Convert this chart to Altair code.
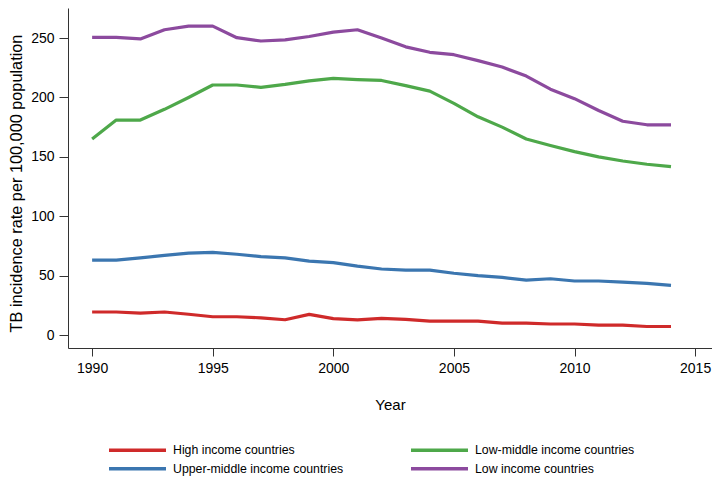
import altair as alt
import pandas as pd

years = list(range(1990, 2015))
high = [19.4, 19.4, 18.5, 19.4, 17.5, 15.4, 15.4, 14.5, 12.9, 17.4, 13.8, 12.8, 14.0, 13.2,
        11.8, 11.8, 11.8, 10.1, 10.1, 9.3, 9.3, 8.4, 8.4, 7.2, 7.2]
upper_middle = [63, 63, 65, 67, 69, 69.6, 68, 66, 65, 62.3, 61, 58, 55.6, 54.7,
                54.7, 52, 50, 48.5, 46.3, 47.4, 45.5, 45.5, 44.6, 43.5, 41.8]
low_middle = [165, 181, 181, 190, 200, 210.5, 210.5, 208.5, 211, 214, 216, 215, 214.3, 210,
              205.3, 195, 183.7, 175, 165, 159.5, 154.4, 150, 146.5, 143.8, 141.7]
low = [250.5, 250.5, 249.3, 257, 260, 260, 250.3, 247.5, 248.5, 251.3, 255, 257, 250, 242.6,
       238, 236, 231, 225.6, 218, 207, 199, 189, 180, 177, 177]

series_names = ["High income countries", "Upper-middle income countries",
                "Low-middle income countries", "Low income countries"]
series_colors = ["#cf2a2a", "#3b76b0", "#4ea84a", "#8c4a9e"]

rows = []
for name, vals in zip(series_names, [high, upper_middle, low_middle, low]):
    for y, v in zip(years, vals):
        rows.append({"Year": y, "Value": v, "Group": name})
df = pd.DataFrame(rows)

FONT = "Liberation Sans"

chart = alt.Chart(df).mark_line(strokeWidth=3.2, strokeJoin="round").encode(
    x=alt.X("Year:Q",
            scale=alt.Scale(domain=[1989.0, 2015.7], nice=False, zero=False),
            axis=alt.Axis(values=[1990, 1995, 2000, 2005, 2010, 2015], format="d",
                          title="Year", grid=False, tickSize=8, labelPadding=5,
                          labelFontSize=14, titleFontSize=15, titleFontWeight="normal",
                          titlePadding=22, domainColor="#333333", tickColor="#333333",
                          labelColor="#000000", titleColor="#000000", labelFont=FONT,
                          titleFont=FONT, labelFlush=False)),
    y=alt.Y("Value:Q",
            scale=alt.Scale(domain=[-10.9, 275.3], nice=False, zero=False),
            axis=alt.Axis(values=[0, 50, 100, 150, 200, 250],
                          title="TB incidence rate per 100,000 population",
                          grid=False, tickSize=9, labelPadding=5,
                          labelFontSize=14, titleFontSize=16.3, titleFontWeight="normal",
                          domainColor="#333333", tickColor="#333333",
                          labelColor="#000000", titleColor="#000000", labelFont=FONT,
                          titleFont=FONT, labelFlush=False, titleX=-44, titleY=175)),
    color=alt.Color("Group:N",
                    scale=alt.Scale(domain=series_names, range=series_colors),
                    legend=alt.Legend(title=None, orient="none", legendX=61.5, legendY=434.25,
                                      columns=2, symbolType="M-4.75,0H4.75", symbolSize=144,
                                      symbolStrokeWidth=3.5, symbolFillColor="transparent",
                                      labelFontSize=12.3, labelFont=FONT, labelColor="#000000",
                                      labelLimit=300,
                                      columnPadding=60, rowPadding=3.5, labelOffset=27.5)),
).properties(
    width=644, height=340,
    autosize=alt.AutoSizeParams(type="none"),
    padding={"left": 60, "top": 0, "right": 0, "bottom": 130},
).configure_view(stroke=None)

chart.save("out.html", embed_options={"renderer": "svg", "actions": False})
